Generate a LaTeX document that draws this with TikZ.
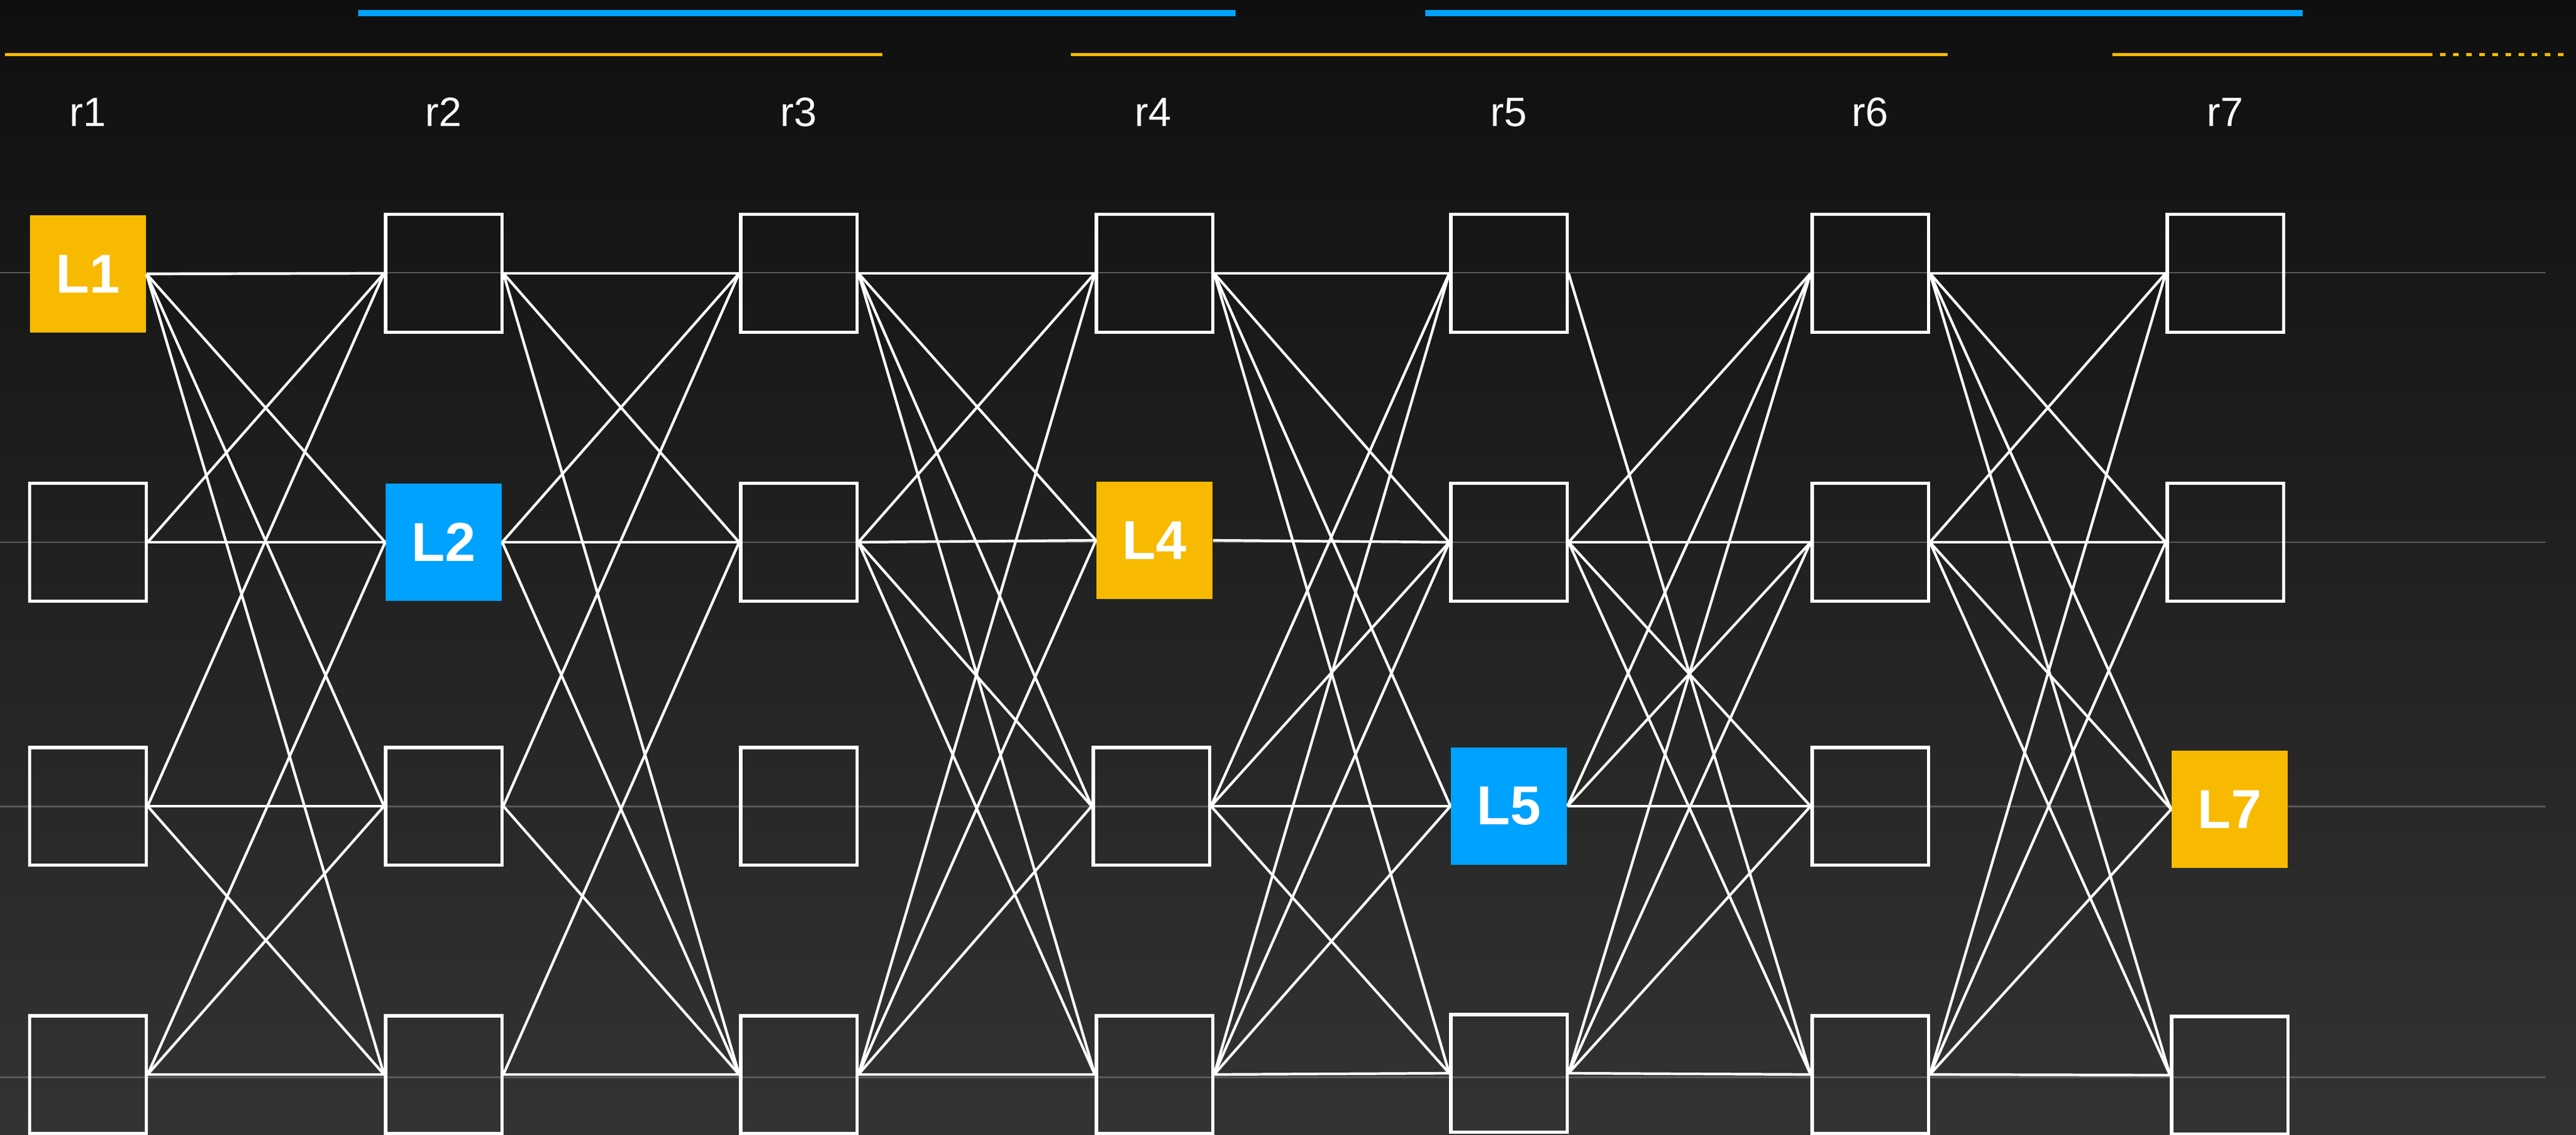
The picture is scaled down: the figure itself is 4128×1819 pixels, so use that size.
\documentclass[tikz,border=0pt]{standalone}
\usepackage{fontspec}
\setmainfont{Liberation Sans}
\definecolor{bgtop}{HTML}{0F0F0F}
\definecolor{bgbot}{HTML}{333333}
\definecolor{accblue}{HTML}{00A2FF}
\definecolor{accorange}{HTML}{F8BA00}
\definecolor{guidegray}{HTML}{5A5A5A}
\begin{document}
\begin{tikzpicture}[x=0.01cm,y=-0.01cm,
  box/.style={draw=white, line width=1.45pt, minimum width=1.86cm, minimum height=1.88cm, inner sep=0pt},
  obox/.style={fill=accorange, minimum width=1.86cm, minimum height=1.88cm, inner sep=0pt, text=white, font=\bfseries\fontsize{25}{30}\selectfont},
  bbox/.style={obox, fill=accblue},
  link/.style={draw=white, line width=1.2pt},
  guideline/.style={draw=guidegray, line width=0.85pt},
  collabel/.style={text=white, inner sep=0pt, font=\fontsize{18.7}{22}\selectfont},
  bluebar/.style={draw=accblue, line width=3.1pt},
  orangebar/.style={draw=accorange, line width=1.6pt}
]
\useasboundingbox (0,0) rectangle (4128,1819);
\shade[top color=bgtop, bottom color=bgbot] (0,0) rectangle (4128,1819);

% top bars
\coordinate (b1s) at (574,21);  \coordinate (b1e) at (1980,21);
\coordinate (b2s) at (2284,21); \coordinate (b2e) at (3690,21);
\coordinate (o1s) at (8,87.5);    \coordinate (o1e) at (1414,87.5);
\coordinate (o2s) at (1716,87.5); \coordinate (o2e) at (3121,87.5);
\coordinate (o3s) at (3385,87.5); \coordinate (o3m) at (3889,87.5);
\coordinate (o3e) at (4112,87.5);
\draw[bluebar] (b1s) -- (b1e);
\draw[bluebar] (b2s) -- (b2e);
\draw[orangebar] (o1s) -- (o1e);
\draw[orangebar] (o2s) -- (o2e);
\draw[orangebar] (o3s) -- (o3m);
\draw[orangebar, dash pattern=on 0.09cm off 0.12cm] (o3m) -- (o3e);

% guide lines
\foreach \y [count=\i] in {437,869,1292,1726} {
  \coordinate (gs\i) at (0,\y);
  \coordinate (ge\i) at (4079,\y);
  \draw[guideline] (gs\i) -- (ge\i);
}

% column labels
\node[collabel] (lab1) at (141,180) {r1};
\node[collabel] (lab2) at (711,180) {r2};
\node[collabel] (lab3) at (1280,180) {r3};
\node[collabel] (lab4) at (1848,180) {r4};
\node[collabel] (lab5) at (2418,180) {r5};
\node[collabel] (lab6) at (2997,180) {r6};
\node[collabel] (lab7) at (3566,180) {r7};

% column 1
\node[obox] (n11) at (141,439) {L1};
\node[box]  (n12) at (141,869) {};
\node[box]  (n13) at (141,1292) {};
\node[box]  (n14) at (141,1722) {};
% column 2
\node[box]  (n21) at (711,438) {};
\node[bbox] (n22) at (711,869) {L2};
\node[box]  (n23) at (711,1292) {};
\node[box]  (n24) at (711,1722) {};
% column 3
\node[box]  (n31) at (1280,438) {};
\node[box]  (n32) at (1280,869) {};
\node[box]  (n33) at (1280,1292) {};
\node[box]  (n34) at (1280,1722) {};
% column 4
\node[box]  (n41) at (1850,438) {};
\node[obox] (n42) at (1850,866) {L4};
\node[box]  (n43) at (1845,1292) {};
\node[box]  (n44) at (1850,1722) {};
% column 5
\node[box]  (n51) at (2418,438) {};
\node[box]  (n52) at (2418,869) {};
\node[bbox] (n53) at (2418,1292) {L5};
\node[box]  (n54) at (2418,1720) {};
% column 6
\node[box]  (n61) at (2997,438) {};
\node[box]  (n62) at (2997,869) {};
\node[box]  (n63) at (2997,1292) {};
\node[box]  (n64) at (2997,1722) {};
% column 7
\node[box]  (n71) at (3566,438) {};
\node[box]  (n72) at (3566,869) {};
\node[obox] (n73) at (3573,1297) {L7};
\node[box]  (n74) at (3573,1723) {};

% connectors
\foreach \a/\b in {1/1,1/2,1/3,1/4,2/1,2/2,3/1,3/3,3/4,4/2,4/3,4/4}
  \draw[link] (n1\a.east) -- (n2\b.west);
\foreach \a/\b in {1/1,1/2,1/4,2/1,2/2,2/4,3/1,3/4,4/2,4/4}
  \draw[link] (n2\a.east) -- (n3\b.west);
\foreach \a/\b in {1/1,1/2,1/3,1/4,2/1,2/2,2/3,2/4,4/1,4/2,4/3,4/4}
  \draw[link] (n3\a.east) -- (n4\b.west);
\foreach \a/\b in {1/1,1/2,1/3,1/4,2/2,3/1,3/2,3/3,3/4,4/1,4/2,4/3,4/4}
  \draw[link] (n4\a.east) -- (n5\b.west);
\foreach \a/\b in {1/4,2/1,2/2,2/3,2/4,3/1,3/2,3/3,4/1,4/2,4/3,4/4}
  \draw[link] (n5\a.east) -- (n6\b.west);
\foreach \a/\b in {1/1,1/2,1/3,1/4,2/1,2/2,2/3,2/4,4/1,4/2,4/3,4/4}
  \draw[link] (n6\a.east) -- (n7\b.west);
\end{tikzpicture}
\end{document}
